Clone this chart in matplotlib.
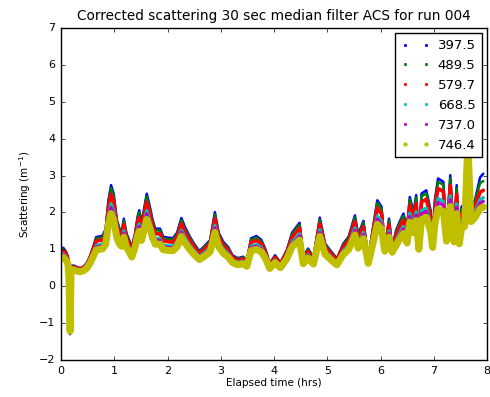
import matplotlib
matplotlib.use("Agg")
import matplotlib.pyplot as plt
from matplotlib.lines import Line2D

plt.style.use("classic")
plt.rcParams["mathtext.default"] = "regular"
plt.rcParams["font.family"] = ["DejaVu Sans"]

# Elapsed time (hrs)
time_hrs = [0.00, 0.05, 0.10, 0.13, 0.15, 0.17, 0.19, 0.24, 0.30, 0.36,
            0.42, 0.48, 0.54, 0.60, 0.66, 0.72, 0.78, 0.84, 0.89, 0.94,
            0.99, 1.05, 1.10, 1.14, 1.18, 1.23, 1.28, 1.33, 1.39, 1.44,
            1.47, 1.51, 1.56, 1.61, 1.67, 1.72, 1.77, 1.86, 1.92, 2.00,
            2.10, 2.18, 2.26, 2.33, 2.42, 2.50, 2.60, 2.70, 2.80, 2.89,
            2.96, 3.05, 3.14, 3.22, 3.32, 3.42, 3.49, 3.57, 3.67, 3.76,
            3.84, 3.92, 4.02, 4.12, 4.24, 4.34, 4.48, 4.55, 4.64, 4.74,
            4.86, 4.96, 5.08, 5.18, 5.30, 5.40, 5.52, 5.58, 5.68, 5.77,
            5.86, 5.94, 6.02, 6.08, 6.16, 6.22, 6.29, 6.36, 6.43, 6.50,
            6.55, 6.62, 6.67, 6.72, 6.77, 6.86, 6.94, 6.98, 7.02, 7.08,
            7.18, 7.24, 7.31, 7.38, 7.43, 7.48, 7.52, 7.58, 7.64, 7.70,
            7.77, 7.87, 7.93]

s397 = [1.06, 1.03, 0.92, 0.80, 0.20, -1.30, 0.55, 0.56, 0.52, 0.49,
        0.53, 0.62, 0.80, 1.05, 1.33, 1.35, 1.37, 1.55, 2.33, 2.74,
        2.50, 1.79, 1.55, 1.47, 1.83, 1.43, 1.25, 1.06, 1.43, 1.90,
        2.06, 1.70, 2.10, 2.51, 2.15, 1.80, 1.56, 1.56, 1.34, 1.32,
        1.30, 1.45, 1.85, 1.60, 1.34, 1.15, 0.95, 1.10, 1.25, 2.01,
        1.45, 1.20, 1.06, 0.84, 0.76, 0.80, 0.70, 1.30, 1.36, 1.26,
        1.00, 0.62, 0.84, 0.64, 0.98, 1.45, 1.72, 0.80, 1.02, 0.78,
        1.86, 1.15, 0.93, 0.75, 1.15, 1.34, 1.92, 1.40, 1.77, 0.75,
        1.60, 2.33, 2.15, 1.02, 1.83, 1.00, 1.50, 1.75, 1.97, 1.60,
        2.42, 2.00, 2.47, 1.08, 2.51, 2.60, 2.06, 1.12, 2.33, 2.92,
        2.83, 1.30, 3.01, 1.28, 2.74, 1.22, 2.15, 2.24, 3.70, 2.30,
        2.30, 2.95, 3.05]

s489 = [1.03, 1.00, 0.89, 0.78, 0.19, -1.27, 0.53, 0.54, 0.50, 0.48,
        0.51, 0.60, 0.78, 1.02, 1.29, 1.31, 1.33, 1.50, 2.26, 2.66,
        2.43, 1.74, 1.50, 1.43, 1.78, 1.39, 1.21, 1.03, 1.39, 1.84,
        2.00, 1.65, 2.04, 2.43, 2.09, 1.75, 1.51, 1.51, 1.30, 1.28,
        1.26, 1.41, 1.79, 1.55, 1.30, 1.12, 0.92, 1.07, 1.21, 1.95,
        1.41, 1.16, 1.03, 0.81, 0.74, 0.78, 0.68, 1.26, 1.32, 1.22,
        0.97, 0.60, 0.81, 0.62, 0.95, 1.41, 1.67, 0.78, 0.99, 0.76,
        1.80, 1.12, 0.90, 0.73, 1.12, 1.30, 1.86, 1.36, 1.72, 0.73,
        1.55, 2.26, 2.09, 1.00, 1.78, 0.98, 1.46, 1.70, 1.91, 1.55,
        2.35, 1.94, 2.40, 1.06, 2.43, 2.52, 2.00, 1.10, 2.26, 2.83,
        2.75, 1.28, 2.92, 1.26, 2.66, 1.20, 2.09, 2.17, 3.70, 2.23,
        2.25, 2.80, 2.85]

s579 = [0.97, 0.95, 0.85, 0.74, 0.20, -1.25, 0.52, 0.52, 0.49, 0.46,
        0.50, 0.58, 0.74, 0.97, 1.22, 1.24, 1.25, 1.42, 2.12, 2.49,
        2.27, 1.63, 1.42, 1.34, 1.67, 1.31, 1.15, 0.97, 1.31, 1.73,
        1.87, 1.55, 1.91, 2.28, 1.96, 1.64, 1.42, 1.42, 1.23, 1.21,
        1.19, 1.33, 1.69, 1.46, 1.23, 1.06, 0.88, 1.01, 1.15, 1.83,
        1.33, 1.10, 0.97, 0.78, 0.70, 0.74, 0.65, 1.19, 1.24, 1.15,
        0.92, 0.58, 0.78, 0.60, 0.90, 1.33, 1.57, 0.74, 0.94, 0.72,
        1.69, 1.06, 0.86, 0.70, 1.06, 1.23, 1.75, 1.28, 1.61, 0.70,
        1.46, 2.12, 1.96, 0.99, 1.67, 0.96, 1.37, 1.60, 1.79, 1.46,
        2.20, 1.82, 2.24, 1.04, 2.28, 2.36, 1.87, 1.08, 2.12, 2.65,
        2.57, 1.26, 2.73, 1.24, 2.49, 1.18, 1.96, 2.04, 3.70, 2.09,
        2.15, 2.55, 2.60]

s668 = [0.89, 0.86, 0.78, 0.68, 0.20, -1.24, 0.48, 0.49, 0.46, 0.43,
        0.46, 0.54, 0.68, 0.88, 1.10, 1.12, 1.14, 1.28, 1.90, 2.23,
        2.04, 1.47, 1.28, 1.22, 1.50, 1.18, 1.04, 0.89, 1.18, 1.56,
        1.69, 1.40, 1.72, 2.05, 1.76, 1.48, 1.29, 1.29, 1.11, 1.10,
        1.08, 1.20, 1.52, 1.32, 1.11, 0.96, 0.80, 0.92, 1.04, 1.65,
        1.20, 1.00, 0.89, 0.71, 0.65, 0.68, 0.60, 1.08, 1.13, 1.05,
        0.84, 0.54, 0.71, 0.55, 0.82, 1.20, 1.42, 0.68, 0.86, 0.66,
        1.53, 0.96, 0.78, 0.64, 0.96, 1.11, 1.58, 1.16, 1.46, 0.66,
        1.32, 1.90, 1.76, 0.97, 1.50, 0.94, 1.24, 1.44, 1.62, 1.32,
        1.98, 1.64, 2.02, 1.02, 2.05, 2.12, 1.69, 1.07, 1.90, 2.38,
        2.30, 1.24, 2.45, 1.22, 2.23, 1.17, 1.76, 1.83, 3.70, 1.88,
        2.00, 2.35, 2.40]

s737 = [0.86, 0.83, 0.75, 0.66, 0.20, -1.23, 0.47, 0.48, 0.45, 0.42,
        0.45, 0.52, 0.66, 0.85, 1.06, 1.08, 1.09, 1.23, 1.82, 2.13,
        1.95, 1.41, 1.23, 1.17, 1.44, 1.14, 1.00, 0.86, 1.14, 1.49,
        1.62, 1.34, 1.65, 1.96, 1.68, 1.42, 1.24, 1.24, 1.07, 1.05,
        1.04, 1.15, 1.46, 1.27, 1.07, 0.92, 0.77, 0.89, 1.00, 1.58,
        1.15, 0.96, 0.86, 0.69, 0.63, 0.66, 0.58, 1.04, 1.08, 1.01,
        0.81, 0.52, 0.69, 0.54, 0.79, 1.15, 1.36, 0.66, 0.83, 0.64,
        1.46, 0.92, 0.76, 0.62, 0.92, 1.07, 1.51, 1.11, 1.40, 0.64,
        1.27, 1.82, 1.68, 0.96, 1.44, 0.93, 1.19, 1.38, 1.55, 1.27,
        1.89, 1.57, 1.93, 1.01, 1.96, 2.03, 1.62, 1.06, 1.82, 2.27,
        2.20, 1.23, 2.34, 1.21, 2.13, 1.16, 1.68, 1.75, 3.70, 1.80,
        1.95, 2.25, 2.30]

s746 = [0.79, 0.77, 0.69, 0.61, 0.19, -1.22, 0.44, 0.44, 0.41, 0.39,
        0.42, 0.48, 0.61, 0.79, 0.98, 1.00, 1.01, 1.14, 1.68, 1.97,
        1.80, 1.30, 1.14, 1.08, 1.33, 1.05, 0.93, 0.79, 1.05, 1.38,
        1.49, 1.24, 1.52, 1.81, 1.56, 1.31, 1.14, 1.14, 0.99, 0.97,
        0.96, 1.07, 1.35, 1.17, 0.99, 0.86, 0.72, 0.82, 0.93, 1.46,
        1.07, 0.89, 0.79, 0.64, 0.58, 0.61, 0.54, 0.96, 1.00, 0.93,
        0.75, 0.48, 0.64, 0.50, 0.74, 1.07, 1.25, 0.61, 0.76, 0.60,
        1.35, 0.86, 0.70, 0.58, 0.86, 0.99, 1.39, 1.03, 1.29, 0.62,
        1.17, 1.68, 1.56, 0.95, 1.33, 0.92, 1.10, 1.28, 1.43, 1.17,
        1.74, 1.45, 1.78, 1.00, 1.81, 1.87, 1.49, 1.05, 1.68, 2.09,
        2.03, 1.22, 2.16, 1.20, 1.97, 1.15, 1.56, 1.62, 3.90, 1.75,
        1.85, 2.10, 2.15]

labels = ["397.5", "489.5", "579.7", "668.5", "737.0", "746.4"]
series = [s397, s489, s579, s668, s737, s746]
colors = ["b", "g", "r", "c", "m", "y"]
widths = [1.8, 1.8, 2.6, 2.4, 2.4, 5.0]
msizes = [3.5, 3.5, 3.5, 3.5, 3.5, 5]

fig = plt.figure(figsize=(4.9, 3.97), dpi=100, facecolor="white")
ax = fig.add_axes([0.1245, 0.0932, 0.8694, 0.8363])
ax.set_facecolor("white")

for vals, col, lw in zip(series, colors, widths):
    ax.plot(time_hrs, vals, color=col, lw=lw, solid_joinstyle="round",
            solid_capstyle="round")

ax.set_xlim(0, 8)
ax.set_ylim(-2, 7)
ax.set_xticks(range(0, 9))
ax.set_yticks(range(-2, 8))
ax.tick_params(labelsize=8, length=3, direction="in", top=True, right=True)
ax.set_xlabel("Elapsed time (hrs)", fontsize=7.5, labelpad=2)
ax.set_ylabel("Scattering (m$^{-1}$)", fontsize=7.5, labelpad=4)
ax.set_title("Corrected scattering 30 sec median filter ACS for run 004",
             fontsize=9.8, pad=6)

handles = [Line2D([0], [0], color=c, marker=".", linestyle="none", markersize=m)
           for c, m in zip(colors, msizes)]
leg = ax.legend(handles, labels, loc="upper right", numpoints=2, fontsize=9.5,
                frameon=True, fancybox=False, handlelength=2.2,
                handletextpad=0.6, borderpad=0.45,
                borderaxespad=0.4, labelspacing=0.52)
leg.get_frame().set_edgecolor("black")
leg.get_frame().set_facecolor("white")

fig.savefig("out.png", dpi=100, facecolor="white")
